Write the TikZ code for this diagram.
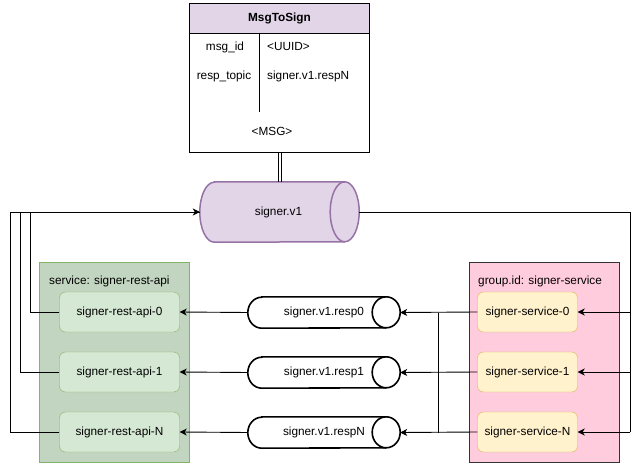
\documentclass[tikz,border=0pt]{standalone}
\usepackage{fontspec}
\setmainfont{Liberation Sans}
\usetikzlibrary{arrows.meta}
\definecolor{purfill}{HTML}{E1D5E7}
\definecolor{purline}{HTML}{9673A6}
\definecolor{grnbox}{HTML}{C2D5C0}
\definecolor{grnfill}{HTML}{D5E8D4}
\definecolor{grnline}{HTML}{82B366}
\definecolor{pinkbox}{HTML}{FFCCDD}
\definecolor{yelfill}{HTML}{FFF2CC}
\definecolor{yelline}{HTML}{D6B656}
\tikzset{
  txt/.style={font=\fontsize{11.8}{14}\selectfont, inner sep=0pt},
  apibox/.style={txt, rectangle, rounded corners=6pt, draw=grnline, fill=grnfill, minimum width=120pt, minimum height=40pt},
  svcbox/.style={txt, rectangle, rounded corners=6pt, draw=yelline, fill=yelfill, minimum width=100pt, minimum height=40pt},
  cylbox/.style={txt, minimum width=152pt, minimum height=31pt},
  conn/.style={draw=black, line width=0.9pt},
  arr/.style={conn, -{Classic TikZ Rightarrow[length=6pt,width=7pt]}},
  arrf/.style={conn, -{Stealth[length=7pt,width=7pt,inset=2pt]}},
}
\begin{document}
\begin{tikzpicture}[x=1pt,y=-1pt]
\useasboundingbox (0,0) rectangle (640,465);
\fill[white] (0,0) rectangle (640,465);

% containers
\node[draw=grnline, fill=grnbox, minimum width=150pt, minimum height=200pt, inner sep=0pt] (restgrp) at (114,362) {};
\node[txt, anchor=west] (restlbl) at (49,281) {service: signer-rest-api};
\node[draw=black!80, fill=pinkbox, minimum width=150pt, minimum height=200pt, inner sep=0pt] (svcgrp) at (544,362) {};
\node[txt, anchor=west] (svclbl) at (478,281) {group.id: signer-service};

% MsgToSign
\node[draw=black, fill=purfill, minimum width=180pt, minimum height=30pt, inner sep=0pt] (hdr) at (279.5,18) {};
\node[txt, font=\fontsize{11.8}{14}\selectfont\bfseries] (hdrtxt) at (279.5,18) {MsgToSign};
\node[draw=black, fill=white, minimum width=180pt, minimum height=119pt, inner sep=0pt, anchor=north] (body) at (hdr.south) {};
\coordinate (divtop) at (259,33);
\coordinate (divbot) at (259,112);
\draw[line width=0.9pt] (divtop) -- (divbot);
\node[txt] (f1) at (225,47) {msg\_id};
\node[txt, anchor=west] (v1) at (267,47) {<UUID>};
\node[txt] (f2) at (224,76) {resp\_topic};
\node[txt, anchor=west] (v2) at (267,76) {signer.v1.respN};
\node[txt] (msg) at (272,131) {<MSG>};

% signer.v1 cylinder
\node[txt, minimum width=159pt, minimum height=60pt] (sv) at (279.5,212) {};
\draw[draw=purline, fill=purfill, line width=1.5pt]
  ([xshift=14.5pt]sv.north west) -- ([xshift=-14.5pt]sv.north east)
  arc[start angle=90,end angle=-90,x radius=14.5pt,y radius=30pt]
  -- ([xshift=14.5pt]sv.south west)
  arc[start angle=270,end angle=90,x radius=14.5pt,y radius=30pt] -- cycle;
\draw[draw=purline, line width=1.5pt] ([xshift=-14.5pt]sv.north east)
  arc[start angle=90,end angle=270,x radius=14.5pt,y radius=30pt];
\node[txt] (svtxt) at (278.5,212) {signer.v1};

% double link
\draw[line width=0.9pt] ([xshift=-1.5pt]body.south) -- ([xshift=-1.5pt]sv.north);
\draw[line width=0.9pt] ([xshift=1.5pt]body.south) -- ([xshift=1.5pt]sv.north);

% rest-api nodes
\node[apibox] (r0) at (119.5,312) {signer-rest-api-0};
\node[apibox] (r1) at (119.5,372) {signer-rest-api-1};
\node[apibox] (rN) at (119.5,432) {signer-rest-api-N};

% service nodes
\node[svcbox] (s0) at (527.5,312) {signer-service-0};
\node[svcbox] (s1) at (527.5,372) {signer-service-1};
\node[svcbox] (sN) at (527.5,432) {signer-service-N};

% response cylinders
\foreach \nm/\yy/\lab in {c0/312.5/signer.v1.resp0, c1/372.5/signer.v1.resp1, cN/432.5/signer.v1.respN}{
  \node[cylbox] (\nm) at (324,\yy) {};
  \draw[draw=black, fill=white, line width=1.6pt]
    ([xshift=14pt]\nm.north west) -- ([xshift=-14pt]\nm.north east)
    arc[start angle=90,end angle=-90,x radius=14pt,y radius=15.5pt]
    -- ([xshift=14pt]\nm.south west)
    arc[start angle=270,end angle=90,x radius=14pt,y radius=15.5pt] -- cycle;
  \draw[line width=1.6pt] ([xshift=-14pt]\nm.north east)
    arc[start angle=90,end angle=270,x radius=14pt,y radius=15.5pt];
  \node[txt] (\nm t) at (\nm) {\lab};
}

% cylinders -> rest-api
\draw[arrf] (c0.west) -- (r0.east);
\draw[arrf] (c1.west) -- (r1.east);
\draw[arrf] (cN.west) -- (rN.east);

% services -> cylinders
\coordinate (fan0) at (438,312.5);
\coordinate (fanN) at (438,432.5);
\draw[arrf] (s0.west) -- (c0.east);
\draw[arrf] (s1.west) -- (c1.east);
\draw[arrf] (sN.west) -- (cN.east);
\draw[conn] (fan0) -- (fanN);

% rest-api -> signer.v1
\coordinate (l0) at (30,312);
\coordinate (l1) at (20,372);
\coordinate (lN) at (10,432);
\draw[conn] (r0.west) -- (l0) |- (sv.west);
\draw[conn] (r1.west) -- (l1) |- (sv.west);
\draw[arrf] (rN.west) -- (lN) |- (sv.west);

% signer.v1 -> services
\coordinate (rt) at (630,212);
\draw[conn] (sv.east) -- (rt) -- (rt |- sN.east);
\draw[arrf] (rt |- s0.east) -- (s0.east);
\draw[arrf] (rt |- s1.east) -- (s1.east);
\draw[arrf] (rt |- sN.east) -- (sN.east);
\end{tikzpicture}
\end{document}
